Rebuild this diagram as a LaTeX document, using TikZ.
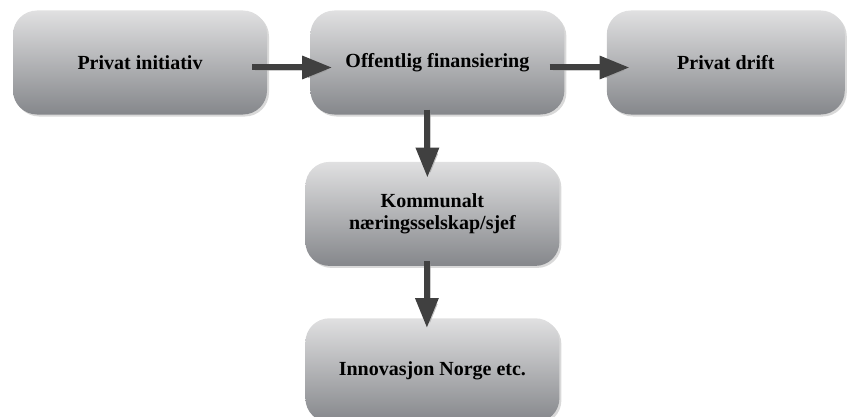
\documentclass[tikz,border=0pt]{standalone}
\usepackage{fontspec}
\setmainfont{Liberation Serif}
\usetikzlibrary{arrows.meta,positioning,shadows}
\definecolor{boxtop}{HTML}{E0E0E1}
\definecolor{boxbottom}{HTML}{85878B}
\definecolor{arrowgray}{HTML}{404040}
\definecolor{shadowgray}{HTML}{9A9A9A}

\begin{document}
\begin{tikzpicture}[
  node distance=47pt and 43pt,
  every node/.style={font=\bfseries\fontsize{20}{22}\selectfont, align=center},
  box/.style={rounded corners=24pt, minimum height=104pt, minimum width=254pt, top color=boxtop, bottom color=boxbottom, drop shadow={shadow xshift=2pt, shadow yshift=-2pt, opacity=.3}},
  arr/.style={-{Triangle[length=30pt, width=22pt]}, line width=6pt, draw=arrowgray, preaction={draw=shadowgray, opacity=.5, transform canvas={shift={(3pt,-3pt)}}}}
]
\useasboundingbox (0,0) rectangle (849pt,416pt);
\node[box] (initiativ) at (140pt,353.5pt) {Privat initiativ};
\node[box, right=of initiativ] (finans) {Offentlig finansiering};
\node[box, minimum width=238pt, right=42pt of finans] (drift) {Privat drift};
\node[box, below=47pt of finans, xshift=-5pt] (kommunal) {Kommunalt\\næringsselskap/sjef};
\node[box, below=52pt of kommunal] (innovasjon) {Innovasjon Norge etc.};
\draw[arr, shorten <=-15pt, shorten >=-22pt] ([yshift=-5pt]initiativ.east) -- ([yshift=-5pt]finans.west);
\draw[arr, shorten <=-15pt, shorten >=-23pt] ([yshift=-5pt]finans.east) -- ([yshift=-5pt]drift.west);
\draw[arr, shorten <=-5pt, shorten >=-16pt] ([xshift=-10pt]finans.south) -- ([xshift=-10pt]finans.south |- kommunal.north);
\draw[arr, shorten <=-5pt, shorten >=-10pt] ([xshift=-5.5pt]kommunal.south) -- ([xshift=-5.5pt]kommunal.south |- innovasjon.north);
\end{tikzpicture}
\end{document}
